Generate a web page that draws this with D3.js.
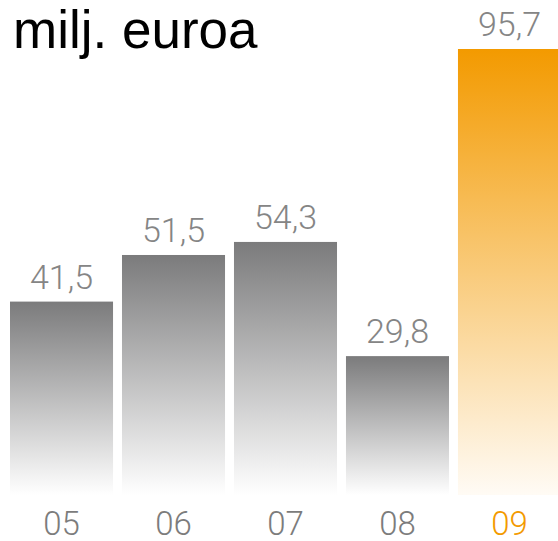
<!DOCTYPE html>
<html>
<head>
<meta charset="utf-8">
<script src="https://cdn.jsdelivr.net/npm/d3@7"></script>
<style>
  body { margin: 0; background: #fff; }
  svg { display: block; }
  .title { font-family: "Liberation Sans", Arial, sans-serif; font-size: 53px; fill: #000; }
  .val, .xAxis text { font-family: "Roboto", "Liberation Sans", sans-serif; font-weight: 300; }
</style>
</head>
<body>
<svg width="558" height="541"></svg>
<script>
var years = ["05","06","07","08","09"]
var values = [41.5, 51.5, 54.3, 29.8, 95.7]
var labels = ["41,5","51,5","54,3","29,8","95,7"]
var highlight = "09"

var svg = d3.select("svg")

var x = d3.scaleBand().domain(years).range([10, 561]).paddingInner(0.08).paddingOuter(0)
var y = d3.scaleLinear().domain([0, 95.7]).range([495, 49])

var defs = svg.append("defs")
function grad(id, top, bottom){
    var g = defs.append("linearGradient")
        .attr("id", id)
        .attr("x1", 0).attr("y1", 0).attr("x2", 0).attr("y2", 1)
    g.append("stop").attr("offset", "0%").attr("stop-color", top)
    g.append("stop").attr("offset", "100%").attr("stop-color", bottom)
}
grad("gGray", "#7b7b7c", "#ffffff")
grad("gOrange", "#f39a00", "#fffbf5")

svg.append("text")
    .attr("class", "title")
    .attr("x", 13)
    .attr("y", 48)
    .text("milj. euroa")

svg.selectAll(".bar")
    .data(years)
    .enter().append("rect")
    .attr("class", "bar")
    .attr("x", function(d){ return x(d) })
    .attr("width", x.bandwidth())
    .attr("y", function(d, i){ return y(values[i]) })
    .attr("height", function(d, i){ return y(0) - y(values[i]) })
    .attr("fill", function(d){ return d == highlight ? "url(#gOrange)" : "url(#gGray)" })

svg.selectAll(".val")
    .data(years)
    .enter().append("text")
    .attr("class", "val")
    .attr("x", function(d){ return x(d) + x.bandwidth()/2 })
    .attr("y", function(d, i){ return y(values[i]) - 13 })
    .attr("text-anchor", "middle")
    .attr("font-size", 34)
    .attr("fill", "#858585")
    .text(function(d, i){ return labels[i] })

var xAxis = d3.axisBottom(x).tickSize(0).tickPadding(0)
var gx = svg.append("g")
    .attr("class", "xAxis")
    .attr("transform", "translate(0,505)")
    .call(xAxis)
gx.select(".domain").remove()
gx.selectAll("text")
    .attr("dy", "0")
    .attr("y", 30)
    .attr("font-size", 33)
    .attr("fill", function(d){ return d == highlight ? "#f39a00" : "#7c7c7c" })
</script>
</body>
</html>
